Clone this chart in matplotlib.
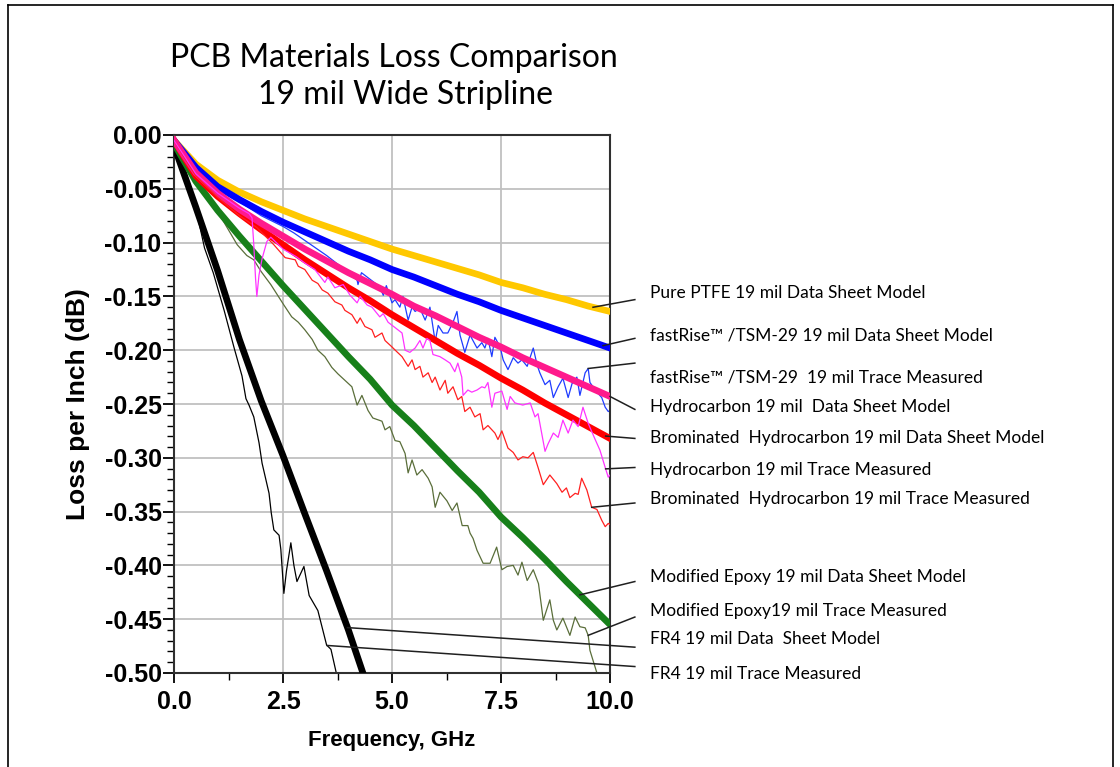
import matplotlib
matplotlib.use("Agg")
import matplotlib.pyplot as plt
from matplotlib.lines import Line2D
import numpy as np

# loss per inch in dB, stored as magnitudes (plotted negative)
freq_model = [0.0, 0.5, 1.0, 1.5, 2.0, 2.5, 3.0, 3.5, 4.0, 4.5, 5.0,
              5.5, 6.0, 6.5, 7.0, 7.5, 8.0, 8.5, 9.0, 9.5, 10.0]
ptfe_model = [0.005, 0.027, 0.042, 0.053, 0.062, 0.070, 0.078, 0.085, 0.092, 0.099, 0.106,
              0.112, 0.118, 0.124, 0.130, 0.137, 0.142, 0.148, 0.153, 0.159, 0.164]
fastrise_model = [0.005, 0.030, 0.048, 0.060, 0.071, 0.081, 0.090, 0.099, 0.108, 0.116, 0.125,
                  0.132, 0.140, 0.148, 0.155, 0.163, 0.170, 0.177, 0.184, 0.191, 0.198]
hydro_model = [0.005, 0.035, 0.054, 0.069, 0.082, 0.094, 0.106, 0.117, 0.128, 0.138, 0.148,
               0.159, 0.168, 0.178, 0.188, 0.197, 0.207, 0.216, 0.225, 0.234, 0.243]
brom_model = [0.005, 0.038, 0.057, 0.073, 0.088, 0.102, 0.116, 0.129, 0.142, 0.154, 0.167,
              0.179, 0.191, 0.203, 0.214, 0.226, 0.237, 0.249, 0.260, 0.271, 0.282]
epoxy_model = [0.008, 0.043, 0.070, 0.094, 0.117, 0.140, 0.162, 0.184, 0.206, 0.227, 0.251,
               0.270, 0.291, 0.312, 0.332, 0.355, 0.374, 0.394, 0.415, 0.435, 0.455]
fr4_freq = [0.0, 0.5, 1.0, 1.5, 2.0, 2.5, 3.0, 3.5, 4.0, 4.5]
fr4_model = [0.010, 0.067, 0.126, 0.190, 0.247, 0.298, 0.352, 0.405, 0.460, 0.520]

# measured traces: (GHz, loss)
fastrise_meas = [(0.0, 0.005), (0.5, 0.032), (1.0, 0.050), (1.5, 0.062), (2.0, 0.075), (2.5, 0.085),
                 (2.75, 0.091), (3.0, 0.098), (3.5, 0.112), (3.85, 0.123), (4.2, 0.135), (4.22, 0.139),
                 (4.3, 0.128), (4.72, 0.141), (4.8, 0.149), (4.87, 0.140), (5.0, 0.156), (5.07, 0.153),
                 (5.18, 0.160), (5.25, 0.150), (5.37, 0.172), (5.46, 0.160), (5.53, 0.164), (5.64, 0.161),
                 (5.76, 0.172), (5.87, 0.160), (5.99, 0.192), (6.06, 0.177), (6.17, 0.184), (6.28, 0.184),
                 (6.4, 0.174), (6.49, 0.164), (6.56, 0.186), (6.67, 0.202), (6.79, 0.186), (6.95, 0.198),
                 (7.06, 0.193), (7.13, 0.198), (7.2, 0.189), (7.29, 0.206), (7.36, 0.188), (7.48, 0.197),
                 (7.55, 0.209), (7.66, 0.218), (7.78, 0.207), (7.89, 0.212), (7.98, 0.209), (8.1, 0.215),
                 (8.24, 0.198), (8.33, 0.214), (8.39, 0.221), (8.51, 0.232), (8.62, 0.228), (8.7, 0.244),
                 (8.81, 0.234), (8.92, 0.226), (9.04, 0.244), (9.13, 0.231), (9.24, 0.225), (9.31, 0.242),
                 (9.43, 0.221), (9.5, 0.217), (9.54, 0.230), (9.68, 0.238), (9.81, 0.244), (9.89, 0.253),
                 (9.96, 0.257), (10.0, 0.256)]
hydro_meas = [(0.0, 0.005), (0.5, 0.036), (1.0, 0.054), (1.5, 0.068), (1.72, 0.073), (1.79, 0.077),
              (1.83, 0.102), (1.87, 0.133), (1.9, 0.150), (1.95, 0.130), (2.02, 0.115), (2.13, 0.099),
              (2.22, 0.095), (2.5, 0.106), (2.8, 0.113), (3.0, 0.119), (3.23, 0.125), (3.46, 0.137),
              (3.53, 0.132), (3.69, 0.142), (3.88, 0.139), (4.04, 0.149), (4.2, 0.156), (4.27, 0.150),
              (4.43, 0.158), (4.54, 0.160), (4.72, 0.169), (4.8, 0.166), (4.91, 0.174), (5.07, 0.179),
              (5.23, 0.184), (5.3, 0.200), (5.41, 0.202), (5.53, 0.198), (5.64, 0.191), (5.71, 0.198),
              (5.8, 0.189), (5.87, 0.191), (5.94, 0.204), (6.1, 0.206), (6.22, 0.209), (6.33, 0.212),
              (6.44, 0.220), (6.51, 0.212), (6.6, 0.225), (6.63, 0.242), (6.74, 0.237), (6.83, 0.239),
              (6.95, 0.237), (7.06, 0.234), (7.13, 0.235), (7.2, 0.230), (7.29, 0.253), (7.36, 0.240),
              (7.52, 0.238), (7.64, 0.255), (7.71, 0.243), (7.82, 0.249), (8.0, 0.251), (8.17, 0.249),
              (8.28, 0.262), (8.35, 0.259), (8.51, 0.294), (8.58, 0.287), (8.7, 0.277), (8.81, 0.281),
              (8.92, 0.265), (9.04, 0.277), (9.15, 0.265), (9.27, 0.271), (9.38, 0.253), (9.5, 0.268),
              (9.66, 0.283), (9.77, 0.293), (9.89, 0.309), (9.96, 0.318), (10.0, 0.316)]
brom_meas = [(0.0, 0.005), (0.5, 0.038), (1.0, 0.058), (1.5, 0.075), (1.9, 0.086), (2.29, 0.102),
             (2.55, 0.114), (2.78, 0.116), (2.85, 0.122), (3.0, 0.125), (3.17, 0.135), (3.3, 0.138),
             (3.4, 0.144), (3.53, 0.147), (3.69, 0.155), (3.85, 0.158), (3.92, 0.163), (4.08, 0.167),
             (4.2, 0.175), (4.27, 0.170), (4.38, 0.178), (4.54, 0.181), (4.61, 0.188), (4.77, 0.184),
             (4.84, 0.191), (5.0, 0.197), (5.1, 0.201), (5.23, 0.206), (5.37, 0.215), (5.46, 0.209),
             (5.53, 0.218), (5.64, 0.215), (5.71, 0.225), (5.83, 0.221), (5.92, 0.230), (5.99, 0.225),
             (6.1, 0.237), (6.22, 0.228), (6.28, 0.240), (6.4, 0.234), (6.51, 0.246), (6.6, 0.243),
             (6.67, 0.257), (6.79, 0.253), (6.9, 0.262), (7.02, 0.259), (7.09, 0.274), (7.2, 0.270),
             (7.36, 0.277), (7.43, 0.283), (7.52, 0.275), (7.66, 0.291), (7.78, 0.295), (7.89, 0.302),
             (8.0, 0.299), (8.12, 0.300), (8.24, 0.295), (8.35, 0.309), (8.47, 0.325), (8.62, 0.316),
             (8.78, 0.324), (8.9, 0.332), (9.0, 0.328), (9.08, 0.337), (9.2, 0.333), (9.27, 0.334),
             (9.35, 0.319), (9.47, 0.330), (9.58, 0.346), (9.7, 0.348), (9.81, 0.358), (9.89, 0.364),
             (9.96, 0.361), (10.0, 0.362)]
epoxy_meas = [(0.0, 0.008), (0.5, 0.043), (1.0, 0.071), (1.45, 0.102), (1.67, 0.112), (1.83, 0.116),
              (2.0, 0.127), (2.22, 0.139), (2.52, 0.158), (2.7, 0.169), (2.85, 0.174), (3.0, 0.181),
              (3.17, 0.190), (3.3, 0.200), (3.46, 0.206), (3.62, 0.216), (3.76, 0.222), (3.92, 0.228),
              (4.08, 0.234), (4.2, 0.251), (4.31, 0.242), (4.45, 0.256), (4.56, 0.263), (4.77, 0.266),
              (4.84, 0.274), (4.95, 0.271), (5.07, 0.284), (5.18, 0.285), (5.3, 0.296), (5.37, 0.314),
              (5.46, 0.302), (5.57, 0.316), (5.69, 0.311), (5.83, 0.319), (5.92, 0.327), (5.99, 0.346),
              (6.1, 0.332), (6.26, 0.340), (6.38, 0.349), (6.49, 0.342), (6.61, 0.363), (6.74, 0.363),
              (6.79, 0.370), (6.86, 0.375), (6.95, 0.386), (7.02, 0.392), (7.09, 0.398), (7.25, 0.398),
              (7.4, 0.383), (7.52, 0.404), (7.64, 0.401), (7.78, 0.400), (7.89, 0.409), (7.98, 0.397),
              (8.1, 0.414), (8.24, 0.404), (8.36, 0.417), (8.47, 0.451), (8.62, 0.432), (8.7, 0.451),
              (8.78, 0.460), (8.92, 0.449), (9.08, 0.465), (9.2, 0.448), (9.31, 0.457), (9.43, 0.458),
              (9.5, 0.465), (9.54, 0.479), (9.7, 0.500), (9.75, 0.510)]
fr4_meas = [(0.0, 0.010), (0.25, 0.038), (0.5, 0.068), (0.7, 0.105), (0.9, 0.128), (1.15, 0.163),
            (1.38, 0.198), (1.56, 0.224), (1.65, 0.245), (1.72, 0.251), (1.83, 0.262), (1.95, 0.286),
            (2.02, 0.305), (2.18, 0.333), (2.23, 0.351), (2.29, 0.367), (2.41, 0.372), (2.45, 0.385),
            (2.52, 0.426), (2.58, 0.405), (2.68, 0.379), (2.75, 0.400), (2.82, 0.415), (2.98, 0.401),
            (3.1, 0.428), (3.3, 0.442), (3.5, 0.474), (3.6, 0.478), (3.75, 0.505)]

label_texts = ["Pure PTFE 19 mil Data Sheet Model",
               "fastRise\u2122 /TSM-29 19 mil Data Sheet Model",
               "fastRise\u2122 /TSM-29  19 mil Trace Measured",
               "Hydrocarbon 19 mil  Data Sheet Model",
               "Brominated  Hydrocarbon 19 mil Data Sheet Model",
               "Hydrocarbon 19 mil Trace Measured",
               "Brominated  Hydrocarbon 19 mil Trace Measured",
               "Modified Epoxy 19 mil Data Sheet Model",
               "Modified Epoxy19 mil Trace Measured",
               "FR4 19 mil Data  Sheet Model",
               "FR4 19 mil Trace Measured"]
label_y = [0.147, 0.186, 0.225, 0.253, 0.282, 0.311, 0.338, 0.411, 0.442, 0.468, 0.501]
leader_end_y = [0.153, 0.189, 0.212, 0.255, 0.282, 0.309, 0.342, 0.415, 0.448, 0.476, 0.494]
leader_from_f = [9.61, 9.84, 9.5, 10.0, 9.9, 9.9, 9.58, 9.31, 9.5, 3.98, 3.51]

xtick_vals = [0.0, 2.5, 5.0, 7.5, 10.0]
xtick_labels = ["0.0", "2.5", "5.0", "7.5", "10.0"]
ytick_vals = [0.0, -0.05, -0.10, -0.15, -0.20, -0.25, -0.30, -0.35, -0.40, -0.45, -0.50]
ytick_labels = ["0.00", "-0.05", "-0.10", "-0.15", "-0.20", "-0.25", "-0.30", "-0.35", "-0.40", "-0.45", "-0.50"]


def unzip(pairs):
    a = np.array(pairs)
    return a[:, 0], a[:, 1]


fig = plt.figure(figsize=(11.2, 7.67), dpi=100)
ax = fig.add_axes([174 / 1120, 94 / 767, 436 / 1120, 538 / 767])

thick = 4.8
thin = 0.9
fm = np.array(freq_model)

# thin measured traces
f, l = unzip(fastrise_meas)
ax.plot(f, -l, color="#1f3cff", lw=thin, zorder=2)
f, l = unzip(fr4_meas)
ax.plot(f, -l, color="black", lw=thin, zorder=2)
f, l = unzip(epoxy_meas)
ax.plot(f, -l, color="#5a6e3a", lw=thin, zorder=2)

# thick model curves
ax.plot(fr4_freq, -np.array(fr4_model), color="black", lw=thick, zorder=3, solid_capstyle="butt")
ax.plot(fm, -np.array(epoxy_model), color="#17801a", lw=thick, zorder=3)
ax.plot(fm, -np.array(ptfe_model), color="#ffc800", lw=thick, zorder=3)
ax.plot(fm, -np.array(fastrise_model), color="#0000ff", lw=thick, zorder=3)
ax.plot(fm, -np.array(brom_model), color="#ff0000", lw=thick, zorder=3)
ax.plot(fm, -np.array(hydro_model), color="#ff1a8c", lw=thick, zorder=3)

f, l = unzip(brom_meas)
ax.plot(f, -l, color="#ff2020", lw=thin, zorder=4)
f, l = unzip(hydro_meas)
ax.plot(f, -l, color="#ff33ff", lw=thin, zorder=4)

ax.set_xlim(0, 10)
ax.set_ylim(-0.5, 0)
ax.set_xticks(xtick_vals)
ax.set_xticklabels(xtick_labels)
ax.set_xticks(np.arange(1.25, 10, 2.5), minor=True)
ax.set_yticks(ytick_vals)
ax.set_yticklabels(ytick_labels)
ax.set_yticks(np.arange(-0.49, 0, 0.01), minor=True)
ax.grid(True, which="major", color="#c0c0c0", lw=1.3)
ax.set_axisbelow(True)
for lab in ax.get_xticklabels() + ax.get_yticklabels():
    lab.set_fontfamily("Liberation Sans")
    lab.set_fontweight("bold")
    lab.set_fontsize(18)
ax.tick_params(axis="y", which="major", length=8, width=1.3, pad=1)
ax.tick_params(axis="y", which="minor", length=5, width=1.0)
ax.tick_params(axis="x", which="major", length=7, width=1.3, pad=5)
ax.tick_params(axis="x", which="minor", length=5, width=1.0)
for side in ["left", "bottom", "top", "right"]:
    ax.spines[side].set_color("#303030")
    ax.spines[side].set_linewidth(1.5)

ax.set_ylabel("Loss per Inch (dB)", fontfamily="Liberation Sans", fontweight="bold",
              fontsize=19, labelpad=10)
ax.set_xlabel("Frequency, GHz", fontfamily="Liberation Sans", fontweight="bold",
              fontsize=16, labelpad=12)

# right hand labels with leader lines
curves = [(fm, ptfe_model), (fm, fastrise_model), unzip(fastrise_meas),
          (fm, hydro_model), (fm, brom_model), unzip(hydro_meas),
          unzip(brom_meas), (fm, epoxy_model), unzip(epoxy_meas),
          (fr4_freq, fr4_model), unzip(fr4_meas)]
for txt, ty, ey, ff, (cx, cy) in zip(label_texts, label_y, leader_end_y, leader_from_f, curves):
    sy = np.interp(ff, cx, cy)
    ax.plot([ff, 10.57], [-sy, -ey], color="#202020", lw=1.1, clip_on=False, zorder=5)
    ax.text(10.92, -ty, txt, fontfamily="Lato", fontsize=12.5, va="center", ha="left",
            clip_on=False)

fig.text(394 / 1120, 1 - 58 / 767, "PCB Materials Loss Comparison", fontfamily="Lato",
         fontsize=23, ha="center", va="center")
fig.text(405 / 1120, 1 - 95 / 767, "19 mil Wide Stripline", fontfamily="Lato",
         fontsize=23, ha="center", va="center")

# outer frame
fig.add_artist(Line2D([8 / 1120, 8 / 1120], [0, 1 - 5 / 767], transform=fig.transFigure, color="black", lw=1.2))
fig.add_artist(Line2D([8 / 1120, 1113 / 1120], [1 - 5 / 767, 1 - 5 / 767], transform=fig.transFigure, color="black", lw=1.2))
fig.add_artist(Line2D([1113 / 1120, 1113 / 1120], [0, 1 - 5 / 767], transform=fig.transFigure, color="black", lw=1.2))

fig.savefig("out.png", dpi=100)
